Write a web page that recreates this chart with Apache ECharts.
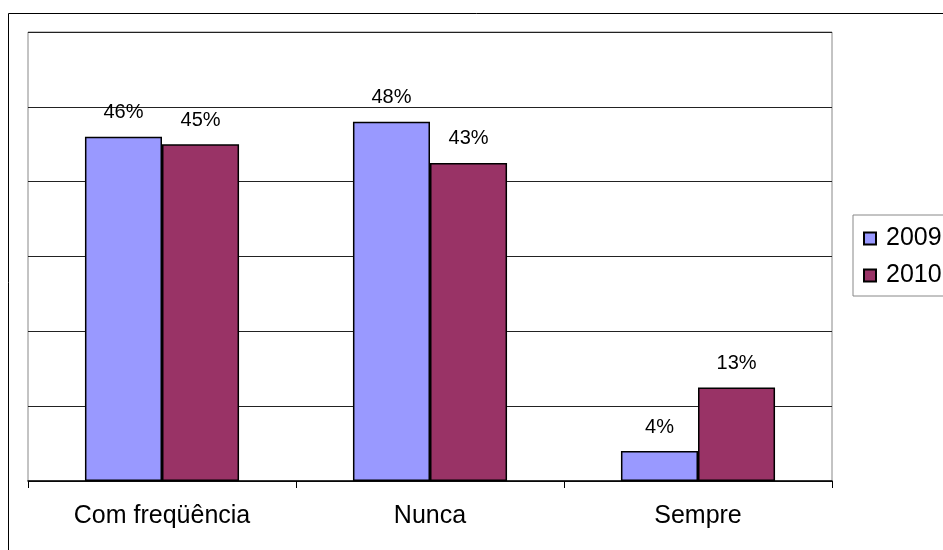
<!DOCTYPE html>
<html>
<head>
<meta charset="utf-8">
<script src="https://cdn.jsdelivr.net/npm/echarts@6/dist/echarts.min.js"></script>
<style>
html,body{margin:0;padding:0;background:#fff;}
#chart{width:943px;height:550px;}
</style>
</head>
<body>
<div id="chart"></div>
<script>
//dados do grafico
var categorias = ['Com freqüência', 'Nunca', 'Sempre'];
var anos = ['2009', '2010'];
var valores2009 = [46, 48, 4];
var valores2010 = [45, 42.5, 12.5];
var cores = ['#9999FF', '#993366'];

function rotulo(p){
	return Math.round(p.value) + '%';
}

function montaSerie(nome, dados, cor){
	return {
		name: nome,
		type: 'bar',
		barGap: '0%',
		barCategoryGap: '42.5%',
		data: dados,
		itemStyle: {color: cor, borderColor: '#000', borderWidth: 1.5},
		label: {
			show: true,
			position: 'top',
			distance: 14,
			formatter: rotulo,
			color: '#000',
			fontSize: 20,
			fontFamily: 'Liberation Sans'
		}
	};
}

function desenha(){
	var option = {
		animation: false,
		backgroundColor: '#fff',
		graphic: [{
			type: 'rect',
			shape: {x: 8.5, y: 13.5, width: 1000, height: 1000},
			style: {fill: 'none', stroke: '#000', lineWidth: 1},
			z: -1
		}],
		grid: {
			left: 28, top: 32, width: 804, height: 449,
			show: true, borderColor: '#888', borderWidth: 1
		},
		legend: {
			orient: 'vertical',
			left: 853, top: 215,
			padding: [11, 30, 8, 10],
			borderColor: '#888', borderWidth: 1,
			itemWidth: 12, itemHeight: 12, itemGap: 12,
			icon: 'rect',
			data: anos,
			textStyle: {fontSize: 25, lineHeight: 25, color: '#000', fontFamily: 'Liberation Sans', padding: [0, 0, 0, 5]}
		},
		xAxis: {
			type: 'category',
			data: categorias,
			axisLine: {lineStyle: {color: '#000', width: 1.5}},
			axisTick: {show: true, length: 7, lineStyle: {color: '#000'}},
			axisLabel: {color: '#000', fontSize: 25, margin: 23, fontFamily: 'Liberation Sans'}
		},
		yAxis: {
			type: 'value',
			min: 0, max: 60, interval: 10,
			axisLabel: {show: false},
			axisLine: {show: false},
			axisTick: {show: false},
			splitLine: {lineStyle: {color: '#222', width: 1}}
		},
		series: [
			montaSerie(anos[0], valores2009, cores[0]),
			montaSerie(anos[1], valores2010, cores[1])
		]
	};
	var myChart = echarts.init(document.getElementById('chart'));
	myChart.setOption(option);
}
desenha();
</script>
</body>
</html>
